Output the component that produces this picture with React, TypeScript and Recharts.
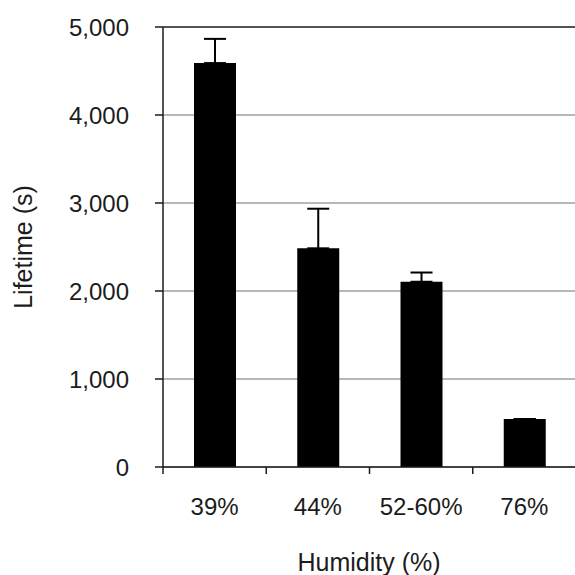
import React from "react";
import {
    BarChart,
    Bar,
    XAxis,
    YAxis,
    CartesianGrid,
    ErrorBar,
    ReferenceLine,
} from "recharts";

const humidity = ["39%", "44%", "52-60%", "76%"];
const lifetime = [4590, 2485, 2105, 545];
const errorUp = [275, 450, 105, 0];
const yTicks = [0, 1000, 2000, 3000, 4000, 5000];

const data = humidity.map((h, i) => ({
    humidity: h,
    lifetime: lifetime[i],
    err: [0, errorUp[i]],
}));

const FONT = "'Liberation Sans', Arial, sans-serif";
const INK = "#1c1c1c";
const X_TICK = 7;
const X_MARGIN = 24;

// label at band centre, tick mark at the band's left edge
function HumidityTick(props: any) {
    const { x, y, payload } = props;
    const axisY = y - X_TICK - X_MARGIN;
    const edge = x - (payload.offset || 0);
    return (
        <g>
            <line x1={edge} y1={axisY} x2={edge} y2={axisY + X_TICK} stroke={INK} strokeWidth={1.5} />
            <text
                x={x}
                y={y}
                dy="0.71em"
                textAnchor="middle"
                fontFamily={FONT}
                fontSize={24}
                fill={INK}
            >
                {payload.value}
            </text>
        </g>
    );
}

function YTitle() {
    return (
        <text
            x={23}
            y={247}
            transform="rotate(-90 23 247)"
            textAnchor="middle"
            dominantBaseline="central"
            fontFamily={FONT}
            fontSize={25}
            fill={INK}
        >
            Lifetime (s)
        </text>
    );
}

function XTitle() {
    return (
        <text
            x={369}
            y={562}
            textAnchor="middle"
            dominantBaseline="central"
            fontFamily={FONT}
            fontSize={25}
            fill={INK}
        >
            Humidity (%)
        </text>
    );
}

export default function App() {
    return (
        <div style={{ position: "absolute", left: 0, top: 0, width: 575, height: 575, overflow: "hidden", background: "#fff" }}>
            <BarChart
                width={576}
                height={575}
                data={data}
                margin={{ top: 27, right: 0, left: 0, bottom: 0 }}
                barSize={42}
            >
                <CartesianGrid vertical={false} stroke="#a0a0a0" strokeWidth={1.5} />
                <XAxis
                    dataKey="humidity"
                    height={108}
                    axisLine={{ stroke: INK, strokeWidth: 1.5 }}
                    tickLine={false}
                    tickSize={X_TICK}
                    tickMargin={X_MARGIN}
                    tick={<HumidityTick />}
                    label={<XTitle />}
                />
                <YAxis
                    width={163}
                    domain={[0, 5000]}
                    ticks={yTicks}
                    interval={0}
                    tickSize={8}
                    tickMargin={26}
                    axisLine={{ stroke: INK, strokeWidth: 1.5 }}
                    tickLine={{ stroke: INK, strokeWidth: 1.5 }}
                    tick={{ fill: INK, fontSize: 24, fontFamily: FONT }}
                    tickFormatter={(v: number) => v.toLocaleString("en-US")}
                    label={<YTitle />}
                />
                <ReferenceLine y={5000} stroke="#333" strokeWidth={1.5} />
                <Bar dataKey="lifetime" fill="#000" isAnimationActive={false}>
                    <ErrorBar dataKey="err" direction="y" width={11} stroke="#000" strokeWidth={2} />
                </Bar>
            </BarChart>
        </div>
    );
}
